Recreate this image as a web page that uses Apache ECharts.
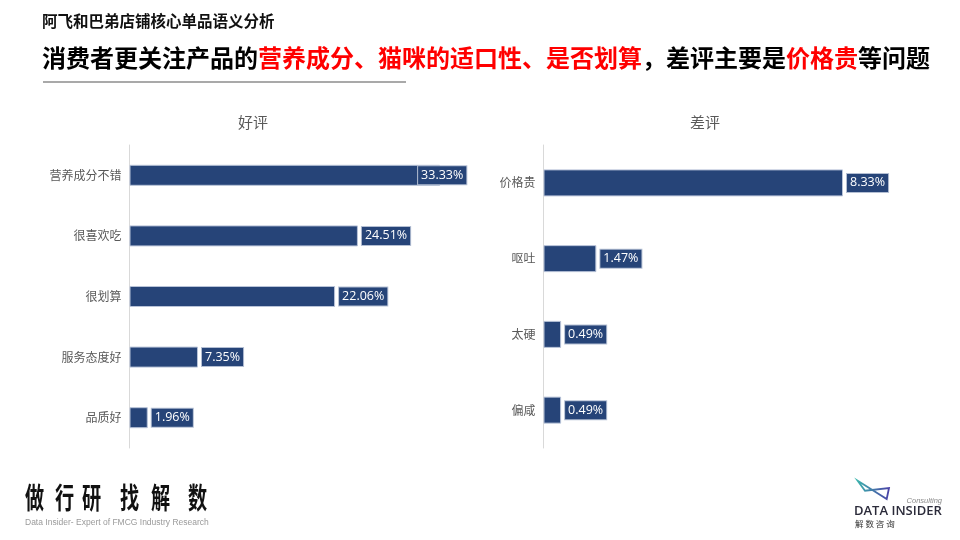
<!DOCTYPE html>
<html>
<head>
<meta charset="utf-8">
<script src="https://cdn.jsdelivr.net/npm/echarts@6/dist/echarts.min.js"></script>
<style>
html,body{margin:0;padding:0;background:#fff;}
#main{width:960px;height:540px;}
</style>
</head>
<body>
<div id="main"></div>
<script>
// ---- data ----
var goodCategories = ['营养成分不错', '很喜欢吃', '很划算', '服务态度好', '品质好'];
var goodValues = [33.33, 24.51, 22.06, 7.35, 1.96];
var badCategories = ['价格贵', '呕吐', '太硬', '偏咸'];
var badValues = [8.33, 1.47, 0.49, 0.49];
var panelTitles = ['好评', '差评'];
var pageSubtitle = '阿飞和巴弟店铺核心单品语义分析';
var headlineParts = [
  ['消费者更关注产品的', 'k'],
  ['营养成分、猫咪的适口性、是否划算', 'r'],
  ['，差评主要是', 'k'],
  ['价格贵', 'r'],
  ['等问题', 'k']
];

var BAR = '#264478';
var CJK = '"Noto Sans CJK SC", "Noto Sans", sans-serif';

function labelCfg() {
  return {
    show: true,
    position: 'right',
    distance: 4,
    formatter: function (p) { return p.value.toFixed(2) + '%'; },
    color: '#ffffff',
    fontSize: 12.5,
    fontFamily: '"Open Sans", "Noto Sans", sans-serif',
    backgroundColor: BAR,
    borderColor: '#b4bfd3',
    borderWidth: 1,
    padding: [2, 3, 1, 3],
    lineHeight: 15
  };
}

var goodData = goodValues.map(function (v, i) {
  var d = { value: v };
  if (i === 0) { d.label = { offset: [-26, 0] }; }
  return d;
});

function catAxis(idx, cats) {
  return {
    type: 'category', gridIndex: idx, data: cats, inverse: true,
    axisLine: { show: true, lineStyle: { color: '#d9d9d9', width: 1 } },
    axisTick: { show: false },
    axisLabel: { color: '#595959', fontSize: 12, fontFamily: CJK, margin: 8 }
  };
}
function valAxis(idx, max) {
  return {
    type: 'value', gridIndex: idx, min: 0, max: max, show: false,
    splitLine: { show: false }
  };
}

var richHead = {
  k: { font: 'bold 24px "Noto Sans CJK SC"', fill: '#000000' },
  r: { font: 'bold 24px "Noto Sans CJK SC"', fill: '#ff0000' }
};
var headText = headlineParts.map(function (p) { return '{' + p[1] + '|' + p[0] + '}'; }).join('');

var slogan = ['做', '行', '研', '找', '解', '数'];
var sloganX = [25, 55, 82, 120, 151, 188];
var sloganEls = slogan.map(function (c, i) {
  return {
    type: 'text', x: sloganX[i], y: 498, scaleX: 0.66,
    style: { text: c, font: 'bold 29px "Noto Sans CJK SC"', fill: '#111111', textVerticalAlign: 'middle' }
  };
});

var option = {
  backgroundColor: '#ffffff',
  animation: false,
  grid: [
    { left: 129.5, top: 145, width: 335.5, height: 303 },
    { left: 543.5, top: 145, width: 323.6, height: 303 }
  ],
  xAxis: [valAxis(0, 36), valAxis(1, 9)],
  yAxis: [catAxis(0, goodCategories), catAxis(1, badCategories)],
  series: [
    {
      type: 'bar', xAxisIndex: 0, yAxisIndex: 0, data: goodData, barWidth: 21,
      itemStyle: { color: BAR, borderColor: '#b8c3d8', borderWidth: 1 },
      label: labelCfg()
    },
    {
      type: 'bar', xAxisIndex: 1, yAxisIndex: 1, data: badValues, barWidth: 27,
      itemStyle: { color: BAR, borderColor: '#b8c3d8', borderWidth: 1 },
      label: labelCfg()
    }
  ],
  graphic: [
    { type: 'text', x: 42, y: 21, style: { text: pageSubtitle, font: 'bold 15.5px "Noto Sans CJK SC"', fill: '#111111', textVerticalAlign: 'middle' } },
    { type: 'text', x: 42, y: 58, style: { text: headText, rich: richHead, textVerticalAlign: 'middle' } },
    { type: 'line', shape: { x1: 43, y1: 82, x2: 406, y2: 82 }, style: { stroke: '#8c8c8c', lineWidth: 1.5 } },
    { type: 'text', x: 253, y: 122, style: { text: panelTitles[0], font: '15px "Noto Sans CJK SC"', fill: '#595959', textAlign: 'center', textVerticalAlign: 'middle' } },
    { type: 'text', x: 705, y: 122, style: { text: panelTitles[1], font: '15px "Noto Sans CJK SC"', fill: '#595959', textAlign: 'center', textVerticalAlign: 'middle' } },
    { type: 'text', x: 25, y: 522.5, style: { text: 'Data Insider- Expert of FMCG Industry Research', font: '8.5px "Liberation Sans"', fill: '#9a9a9a', textVerticalAlign: 'middle' } },
    {
      type: 'polygon',
      shape: { points: [[857.7, 480.7], [886.7, 499], [889, 488], [865, 490.7]] },
      style: {
        fill: 'none', lineWidth: 1.8,
        stroke: { type: 'linear', x: 0, y: 0, x2: 1, y2: 0, colorStops: [{ offset: 0, color: '#3cb8ad' }, { offset: 1, color: '#4b3aa6' }] }
      }
    },
    { type: 'text', x: 942, y: 501, style: { text: 'Consulting', font: 'italic 7.5px "Liberation Sans"', fill: '#8a8a8a', textAlign: 'right', textVerticalAlign: 'middle' } },
    { type: 'text', x: 854, y: 511, style: { text: 'DATA INSIDER', font: '600 13px "Open Sans"', fill: '#2b2b3a', textVerticalAlign: 'middle' } },
    { type: 'text', x: 855, y: 524, style: { text: '解 数 咨 询', font: '8.5px "Noto Sans CJK SC"', fill: '#333333', textVerticalAlign: 'middle' } }
  ].concat(sloganEls)
};

var chart = echarts.init(document.getElementById('main'), null, { renderer: 'canvas' });
chart.setOption(option);
</script>
</body>
</html>
